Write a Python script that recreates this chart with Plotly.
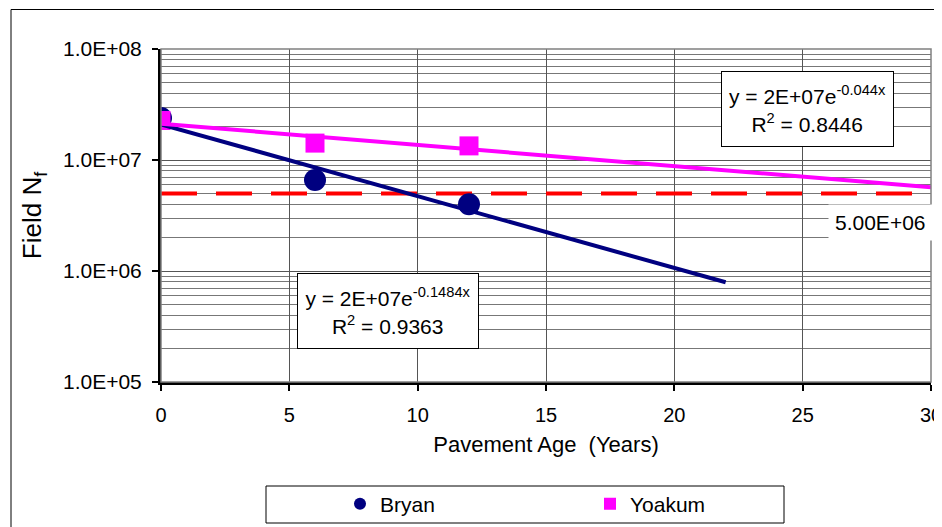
import numpy as np
import plotly.graph_objects as go

# field data
years = [0, 6, 12]
bryan = [2.39e7, 6.6e6, 4.0e6]
yoakum = [2.27e7, 1.42e7, 1.34e7]
limit = 5.0e6
bryan_end = 22
yoakum_end = 30

ytick_vals = [1e5, 1e6, 1e7, 1e8]
ytick_text = ["1.0E+05", "1.0E+06", "1.0E+07", "1.0E+08"]
minor_vals = [m * 10 ** d for d in range(5, 8) for m in range(2, 10)]

# the page puts the figure 8px in from the top left corner
OFF = 8
W, H = 942 - OFF, 527 - OFF
L, R, T, B = 153, 11, 41, 145
pw, ph = W - L - R, H - T - B


def px(x, y):
    # screen pixel -> paper coordinates
    return (x - OFF - L) / pw, (H - B - (y - OFF)) / ph


def trend(x, y, end):
    k, c = np.polyfit(x, np.log(y), 1)
    xs = np.linspace(0, end, 120)
    return xs, np.exp(c) * np.exp(k * xs)


font = "Liberation Sans, Arial, sans-serif"
fig = go.Figure()

fig.add_trace(go.Scatter(x=[0, 30], y=[limit, limit], mode="lines",
                         line=dict(color="#FF0000", width=4, dash="36px,19px"),
                         showlegend=False, hoverinfo="skip"))
fig.add_trace(go.Scatter(x=years, y=bryan, mode="markers", name="Bryan",
                         marker=dict(symbol="circle", size=22, color="#000080")))
fig.add_trace(go.Scatter(x=years, y=yoakum, mode="markers", name="Yoakum",
                         marker=dict(symbol="square", size=19, color="#FF00FF")))
bx, by = trend(years, bryan, bryan_end)
yx, yy = trend(years, yoakum, yoakum_end)
fig.add_trace(go.Scatter(x=bx, y=by, mode="lines", line=dict(color="#000080", width=4),
                         showlegend=False, hoverinfo="skip"))
fig.add_trace(go.Scatter(x=yx, y=yy, mode="lines", line=dict(color="#FF00FF", width=4),
                         showlegend=False, hoverinfo="skip"))

box_font = dict(family=font, size=21, color="black")
fig.add_annotation(x=25.19, y=7.46, xref="x", yref="y",
                   text="y = 2E+07e<sup>-0.044x</sup><br>R<sup>2</sup> = 0.8446",
                   showarrow=False, font=box_font, bgcolor="white",
                   bordercolor="black", borderwidth=1, borderpad=3, width=165, height=68)
fig.add_annotation(x=8.83, y=5.637, xref="x", yref="y",
                   text="y = 2E+07e<sup>-0.1484x</sup><br>R<sup>2</sup> = 0.9363",
                   showarrow=False, font=box_font, bgcolor="white",
                   bordercolor="black", borderwidth=1, borderpad=3, width=174, height=68)
fig.add_annotation(x=28.05, y=6.44, xref="x", yref="y", text="5.00E+06",
                   showarrow=False, font=dict(family=font, size=21, color="black"),
                   bgcolor="white", borderpad=6)

# chart border, plot border, legend box
ox0, oy0 = px(11, 9.5)
ox1, oy1 = px(960, 545)
fig.add_shape(type="rect", xref="paper", yref="paper", x0=ox0, y0=oy1, x1=ox1, y1=oy0,
              line=dict(color="black", width=1), layer="below")
fig.add_shape(type="rect", xref="paper", yref="paper", x0=0, y0=0, x1=1, y1=1,
              line=dict(color="#808080", width=1.5))
lx0, ly0 = px(266, 486)
lx1, ly1 = px(784, 523)
fig.add_shape(type="rect", xref="paper", yref="paper", x0=lx0, y0=ly1, x1=lx1, y1=ly0,
              line=dict(color="black", width=1))

legx, legy = px(340, 504)
fig.update_layout(
    width=W, height=H,
    margin=dict(l=L, r=R, t=T, b=B, autoexpand=False),
    paper_bgcolor="white", plot_bgcolor="white",
    font=dict(family=font, size=19, color="black"),
    legend=dict(orientation="h", x=legx, y=legy, xanchor="left", yanchor="middle",
                bgcolor="rgba(0,0,0,0)", itemsizing="constant",
                entrywidth=205, entrywidthmode="pixels",
                font=dict(family=font, size=21, color="black")),
    xaxis=dict(range=[0, 30], tickvals=[0, 5, 10, 15, 20, 25, 30], automargin=False,
               showgrid=True, gridcolor="#555", gridwidth=1, zeroline=False,
               showline=True, linecolor="black", linewidth=3,
               ticks="outside", ticklen=6, tickwidth=2, tickcolor="black",
               ticklabelstandoff=7, ticklabeloverflow="allow",
               tickfont=dict(family=font, size=20, color="black"),
               title=dict(text="Pavement Age  (Years)", standoff=12,
                          font=dict(family=font, size=22, color="black"))),
    yaxis=dict(type="log", range=[5, 8], tickvals=ytick_vals, ticktext=ytick_text,
               automargin=False,
               showgrid=True, gridcolor="#555", gridwidth=1, zeroline=False,
               minor=dict(tickvals=minor_vals, showgrid=True, gridcolor="#777",
                          gridwidth=1, ticks=""),
               showline=True, linecolor="black", linewidth=3,
               ticks="outside", ticklen=6, tickwidth=2, tickcolor="black",
               ticklabelstandoff=6,
               tickfont=dict(family=font, size=21, color="black"),
               title=dict(text="Field N<sub>f</sub>", standoff=14,
                          font=dict(family=font, size=26, color="black"))),
)

fig.write_html("out.html")
